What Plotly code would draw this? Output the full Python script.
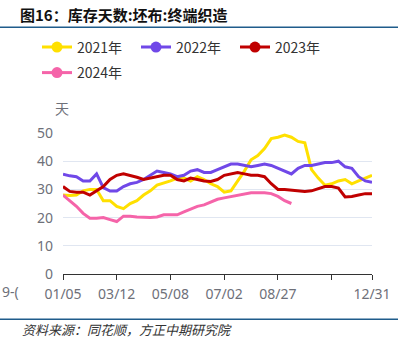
import plotly.graph_objects as go

FONT = "Noto Sans CJK SC"
NUMFONT = "Noto Sans, Noto Sans CJK SC"

tick_vals = [0, 8, 16, 24, 32, 40, 46]
tick_text = ["01/05", "03/12", "05/08", "07/02", "08/27", "", "12/31"]
y_ticks = [0, 10, 20, 30, 40, 50]

y2021 = [28, 27.8, 28, 29.5, 30, 30, 26, 26, 24, 23.2, 25, 26, 28, 29.5, 31.5, 32.2,
         33, 34, 34, 33, 34.5, 33.5, 32, 31, 29, 29.5, 33, 36.5, 40.5, 42, 44.5, 48,
         48.5, 49.3, 48.5, 47, 46.5, 37, 34, 31.5, 32, 33, 33.5, 32, 33, 34, 35]
y2022 = [35.4, 34.8, 34.5, 33, 33, 35.5, 30.6, 29.4, 29.4, 31, 32, 32.5, 33.5, 35, 36.5,
         36, 35.5, 34.5, 35, 36.5, 37, 36, 36, 37, 38, 39, 39, 38.5, 38, 38.5, 39,
         38.5, 37.5, 36.5, 35.5, 37.5, 38.5, 38.5, 39, 39.5, 39.5, 40, 38, 37.5, 34.5, 33, 32.5]
y2023 = [31, 29.3, 29, 29, 28, 29.5, 31, 33.5, 35, 35.5, 35, 34.3, 33.5, 34, 34.5, 35,
         35, 33.5, 33, 34, 33.5, 33, 32.8, 33.5, 35, 35.5, 36, 35.5, 35, 35, 34.5, 32,
         30, 30, 29.8, 29.5, 29.3, 29.5, 30.3, 31, 31, 30.5, 27.3, 27.5, 28, 28.5, 28.5]
y2024 = [28, 26, 24, 21.5, 19.8, 19.8, 20, 19.3, 18.6, 20.5, 20.5, 20.2, 20, 20, 20.2,
         21, 21, 21, 22, 23, 24, 24.5, 25.5, 26.5, 27, 27.5, 28, 28.5, 28.8, 28.8, 28.8,
         28.5, 27.5, 26, 25]

series = [
    ("2021年", y2021, "#FFE000", "legend"),
    ("2022年", y2022, "#7048E8", "legend"),
    ("2023年", y2023, "#C00000", "legend"),
    ("2024年", y2024, "#F564A9", "legend2"),
]

fig = go.Figure()
for name, ys, color, leg in series:
    fig.add_trace(go.Scatter(
        x=list(range(len(ys))), y=ys, name=name, mode="lines",
        line=dict(color=color, width=3), legend=leg,
        showlegend=False, hoverinfo="skip",
    ))
    fig.add_trace(go.Scatter(
        x=[None], y=[None], name=name, mode="lines+markers",
        line=dict(color=color, width=3), marker=dict(color=color, size=11),
        legend=leg, hoverinfo="skip",
    ))

W, H = 407, 355
L, R, T, B = 63, 35, 133, 81
PW, PH = W - L - R, H - T - B

def px(x):
    return (x - L) / PW

def py(y):
    return (H - B - y) / PH

fig.update_layout(
    width=W, height=H,
    margin=dict(l=L, r=R, t=T, b=B, autoexpand=False),
    paper_bgcolor="white", plot_bgcolor="white",
    font=dict(family=FONT, size=14, color="#333333"),
    legend=dict(orientation="h", x=px(37), y=py(47.5), xanchor="left", yanchor="middle",
                bgcolor="rgba(0,0,0,0)", entrywidth=54, font=dict(size=14, color="#333333")),
    legend2=dict(orientation="h", x=px(37), y=py(73), xanchor="left", yanchor="middle",
                 bgcolor="rgba(0,0,0,0)", entrywidth=54, font=dict(size=14, color="#333333")),
    xaxis=dict(range=[0, 46], tickmode="array", tickvals=tick_vals, ticktext=tick_text,
               showgrid=False, zeroline=False, showline=True, linecolor="#333333", linewidth=1,
               ticks="outside", ticklen=5, tickcolor="#333333", ticklabeloverflow="allow",
               ticklabelstandoff=2,
               tickfont=dict(size=14, color="#6E7079", family=NUMFONT)),
    yaxis=dict(range=[0, 50], tickmode="array", tickvals=y_ticks,
               ticktext=[str(v) for v in y_ticks], showgrid=True,
               gridcolor="#E0E6F1", gridwidth=1, zeroline=False, ticklabeloverflow="allow",
               showline=False, ticks="", ticklabelstandoff=9,
               tickfont=dict(size=14, color="#6E7079", family=NUMFONT)),
    showlegend=True,
    hovermode=False,
)

fig.add_annotation(text="图16：库存天数:坯布:终端织造", xref="paper", yref="paper",
                   x=px(18), y=py(15), xanchor="left", yanchor="middle", showarrow=False,
                   font=dict(size=15, color="#111111", family=FONT, weight=600))
fig.add_annotation(text="天", xref="paper", yref="paper", x=px(62), y=py(108),
                   xanchor="center", yanchor="middle", showarrow=False,
                   font=dict(size=14, color="#6E7079"))
fig.add_annotation(text="9-(", xref="paper", yref="paper", x=px(0), y=py(291),
                   xanchor="left", yanchor="middle", showarrow=False,
                   font=dict(size=14, color="#6E7079", family=NUMFONT))
fig.add_annotation(text="<i>资料来源：同花顺，方正中期研究院</i>", xref="paper", yref="paper",
                   x=px(20), y=py(329), xanchor="left", yanchor="middle", showarrow=False,
                   font=dict(size=13, color="#333333"))

for yy in (27.3, 319.3):
    fig.add_shape(type="line", xref="paper", yref="paper", x0=px(0), x1=px(398),
                  y0=py(yy), y1=py(yy), line=dict(color="#1F5C8B", width=1.5))

fig.write_html("out.html", config={"displayModeBar": False, "staticPlot": True},
               post_script="document.body.style.margin='0';")
